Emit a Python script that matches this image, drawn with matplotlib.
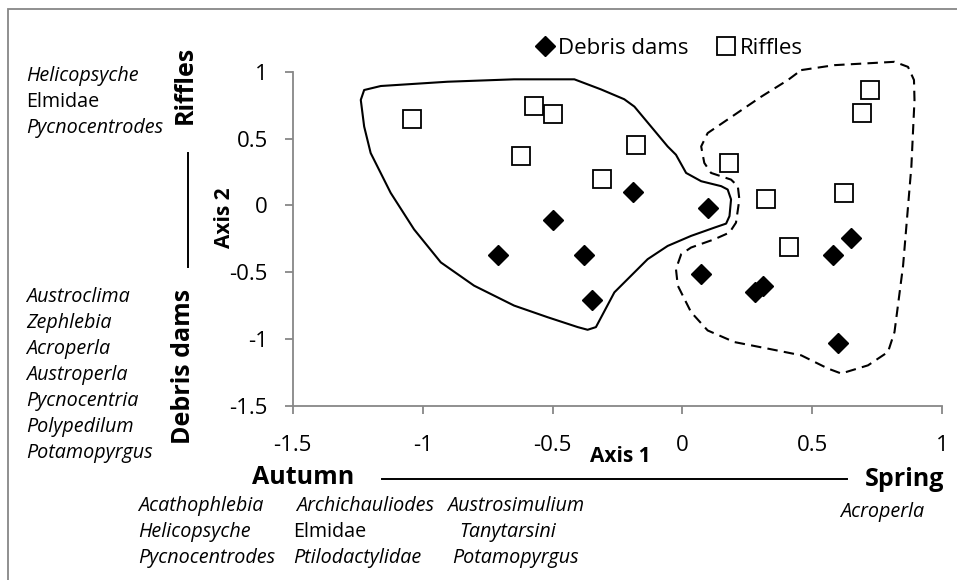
import matplotlib
matplotlib.use("Agg")
import matplotlib.pyplot as plt
from matplotlib.patches import Rectangle, Polygon
from matplotlib.lines import Line2D
from matplotlib.ticker import MultipleLocator, FormatStrFormatter

plt.rcParams['font.family'] = ['Open Sans', 'DejaVu Sans']
plt.rcParams['axes.unicode_minus'] = False

# ordination scores
debris_x = [-0.19, -0.50, -0.71, -0.38, -0.35, 0.10, 0.07, 0.28, 0.31, 0.58, 0.65, 0.60]
debris_y = [0.10, -0.11, -0.37, -0.37, -0.71, -0.02, -0.51, -0.65, -0.60, -0.37, -0.24, -1.03]
riffle_x = [-1.04, -0.57, -0.50, -0.62, -0.18, -0.31, 0.18, 0.32, 0.41, 0.62, 0.72, 0.69]
riffle_y = [0.65, 0.74, 0.68, 0.37, 0.45, 0.20, 0.32, 0.05, -0.31, 0.09, 0.86, 0.69]

# outline around the autumn samples
autumn_hull = [(-1.225, 0.863), (-1.161, 0.893), (-0.904, 0.925), (-0.648, 0.943),
               (-0.416, 0.943), (-0.314, 0.868), (-0.224, 0.794), (-0.185, 0.739),
               (-0.121, 0.590), (-0.057, 0.441), (-0.025, 0.379), (0.014, 0.243),
               (0.072, 0.181), (0.149, 0.144), (0.174, 0.119), (0.187, 0.045),
               (0.181, -0.080), (0.168, -0.136), (0.123, -0.166), (0.033, -0.228),
               (-0.057, -0.303), (-0.134, -0.402), (-0.262, -0.650), (-0.333, -0.910),
               (-0.365, -0.930), (-0.403, -0.910), (-0.519, -0.836), (-0.648, -0.749),
               (-0.802, -0.600), (-0.930, -0.426), (-1.033, -0.179), (-1.123, 0.094),
               (-1.200, 0.392), (-1.225, 0.590), (-1.238, 0.789)]

# outline around the spring samples
spring_hull = [(0.457, 1.012), (0.585, 1.049), (0.816, 1.074), (0.868, 1.036),
               (0.891, 0.938), (0.893, 0.789), (0.881, 0.292), (0.849, -0.452),
               (0.816, -0.947), (0.791, -1.096), (0.714, -1.196), (0.611, -1.257),
               (0.560, -1.220), (0.457, -1.121), (0.329, -1.071), (0.200, -1.022),
               (0.097, -0.935), (0.033, -0.798), (-0.018, -0.600), (-0.025, -0.476),
               (-0.005, -0.365), (0.033, -0.315), (0.123, -0.253), (0.181, -0.203),
               (0.206, -0.129), (0.219, 0.045), (0.213, 0.144), (0.187, 0.193),
               (0.110, 0.243), (0.084, 0.318), (0.072, 0.441), (0.097, 0.541),
               (0.303, 0.813), (0.406, 0.938)]

riffle_taxa = ['Helicopsyche', 'Elmidae', 'Pycnocentrodes']
debris_taxa = ['Austroclima', 'Zephlebia', 'Acroperla', 'Austroperla',
               'Pycnocentria', 'Polypedilum', 'Potamopyrgus']
autumn_col1 = ['Acathophlebia', 'Helicopsyche', 'Pycnocentrodes']
autumn_col2 = ['Archichauliodes', 'Elmidae', 'Ptilodactylidae']
autumn_col3 = ['Austrosimulium', 'Tanytarsini', 'Potamopyrgus']
spring_taxa = ['Acroperla']
upright_names = ['Elmidae']

W, H = 957, 580
fig = plt.figure(figsize=(W / 100, H / 100), dpi=100)


def fx(px):
    return px / W


def fy(py):
    return 1 - py / H


GREY = '#878787'
TAXA_SIZE = 14.2

# chart border
fig.patches.append(Rectangle((fx(8), -0.05), 1.1, fy(9) + 0.05, transform=fig.transFigure,
                             fill=False, edgecolor=GREY, lw=1.3))

ax = fig.add_axes([fx(292.7), fy(406), (942.3 - 292.7) / W, (406 - 71.7) / H])
ax.set_xlim(-1.5, 1)
ax.set_ylim(-1.5, 1)
for s in ['top', 'right']:
    ax.spines[s].set_visible(False)
for s in ['left', 'bottom']:
    ax.spines[s].set_color(GREY)
    ax.spines[s].set_linewidth(1.3)
ax.xaxis.set_major_locator(MultipleLocator(0.5))
ax.yaxis.set_major_locator(MultipleLocator(0.5))
ax.xaxis.set_major_formatter(FormatStrFormatter('%g'))
ax.yaxis.set_major_formatter(FormatStrFormatter('%g'))
ax.tick_params(axis='both', direction='out', length=6, width=1.3, color=GREY,
               labelsize=16, labelcolor='black')
ax.tick_params(axis='y', pad=12)
ax.tick_params(axis='x', pad=15)

ax.add_patch(Polygon(autumn_hull, closed=True, fill=False, edgecolor='black',
                     lw=1.5, joinstyle='round', clip_on=False))
ax.add_patch(Polygon(spring_hull, closed=True, fill=False, edgecolor='black',
                     lw=1.5, ls=(0, (5, 3)), joinstyle='round', clip_on=False))

ax.plot(debris_x, debris_y, ls='none', marker='D', ms=10.5, mfc='black', mec='black',
        label='Debris dams', clip_on=False, zorder=3)
ax.plot(riffle_x, riffle_y, ls='none', marker='s', ms=12.5, mfc='white', mec='black',
        mew=1.3, label='Riffles', clip_on=False, zorder=3)

fig.legend(loc='center', bbox_to_anchor=(fx(667), fy(48)), ncol=2, frameon=False,
           fontsize=16, handletextpad=0.0, columnspacing=1.1, numpoints=1,
           handlelength=1.2, borderpad=0)

fig.text(fx(620), fy(456), 'Axis 1', ha='center', va='center', fontsize=15, weight='bold')
fig.text(fx(224), fy(218), 'Axis 2', ha='center', va='center', fontsize=15,
         weight='bold', rotation=90)

# vertical gradient: riffles (top) vs debris dams (bottom)
fig.text(fx(185.5), fy(84.5), 'Riffles', ha='center', va='center', fontsize=18,
         weight='bold', rotation=90)
fig.text(fx(183), fy(366), 'Debris dams', ha='center', va='center', fontsize=18,
         weight='bold', rotation=90)
fig.add_artist(Line2D([fx(188), fx(188)], [fy(153), fy(267)], color='black', lw=1.4))

# horizontal gradient: autumn vs spring
fig.text(fx(303), fy(478), 'Autumn', ha='center', va='center', fontsize=18, weight='bold')
fig.text(fx(904), fy(480), 'Spring', ha='center', va='center', fontsize=18, weight='bold')
fig.add_artist(Line2D([fx(381.7), fx(846.7)], [fy(479.3), fy(479.3)], color='black', lw=1.4))


def taxa_list(names, lefts, top, step=26):
    for i, name in enumerate(names):
        style = 'normal' if name in upright_names else 'italic'
        fig.text(fx(lefts[i]), fy(top + i * step), name, ha='left', va='center',
                 fontsize=TAXA_SIZE, style=style)


taxa_list(riffle_taxa, [26] * 3, 76)
taxa_list(debris_taxa, [26] * 7, 297)
taxa_list(autumn_col1, [138] * 3, 506)
taxa_list(autumn_col2, [296, 293, 293], 506)
taxa_list(autumn_col3, [447, 459, 452], 506)
fig.text(fx(882), fy(512), spring_taxa[0], ha='center', va='center', fontsize=TAXA_SIZE,
         style='italic')

fig.savefig('out.png', dpi=100)
